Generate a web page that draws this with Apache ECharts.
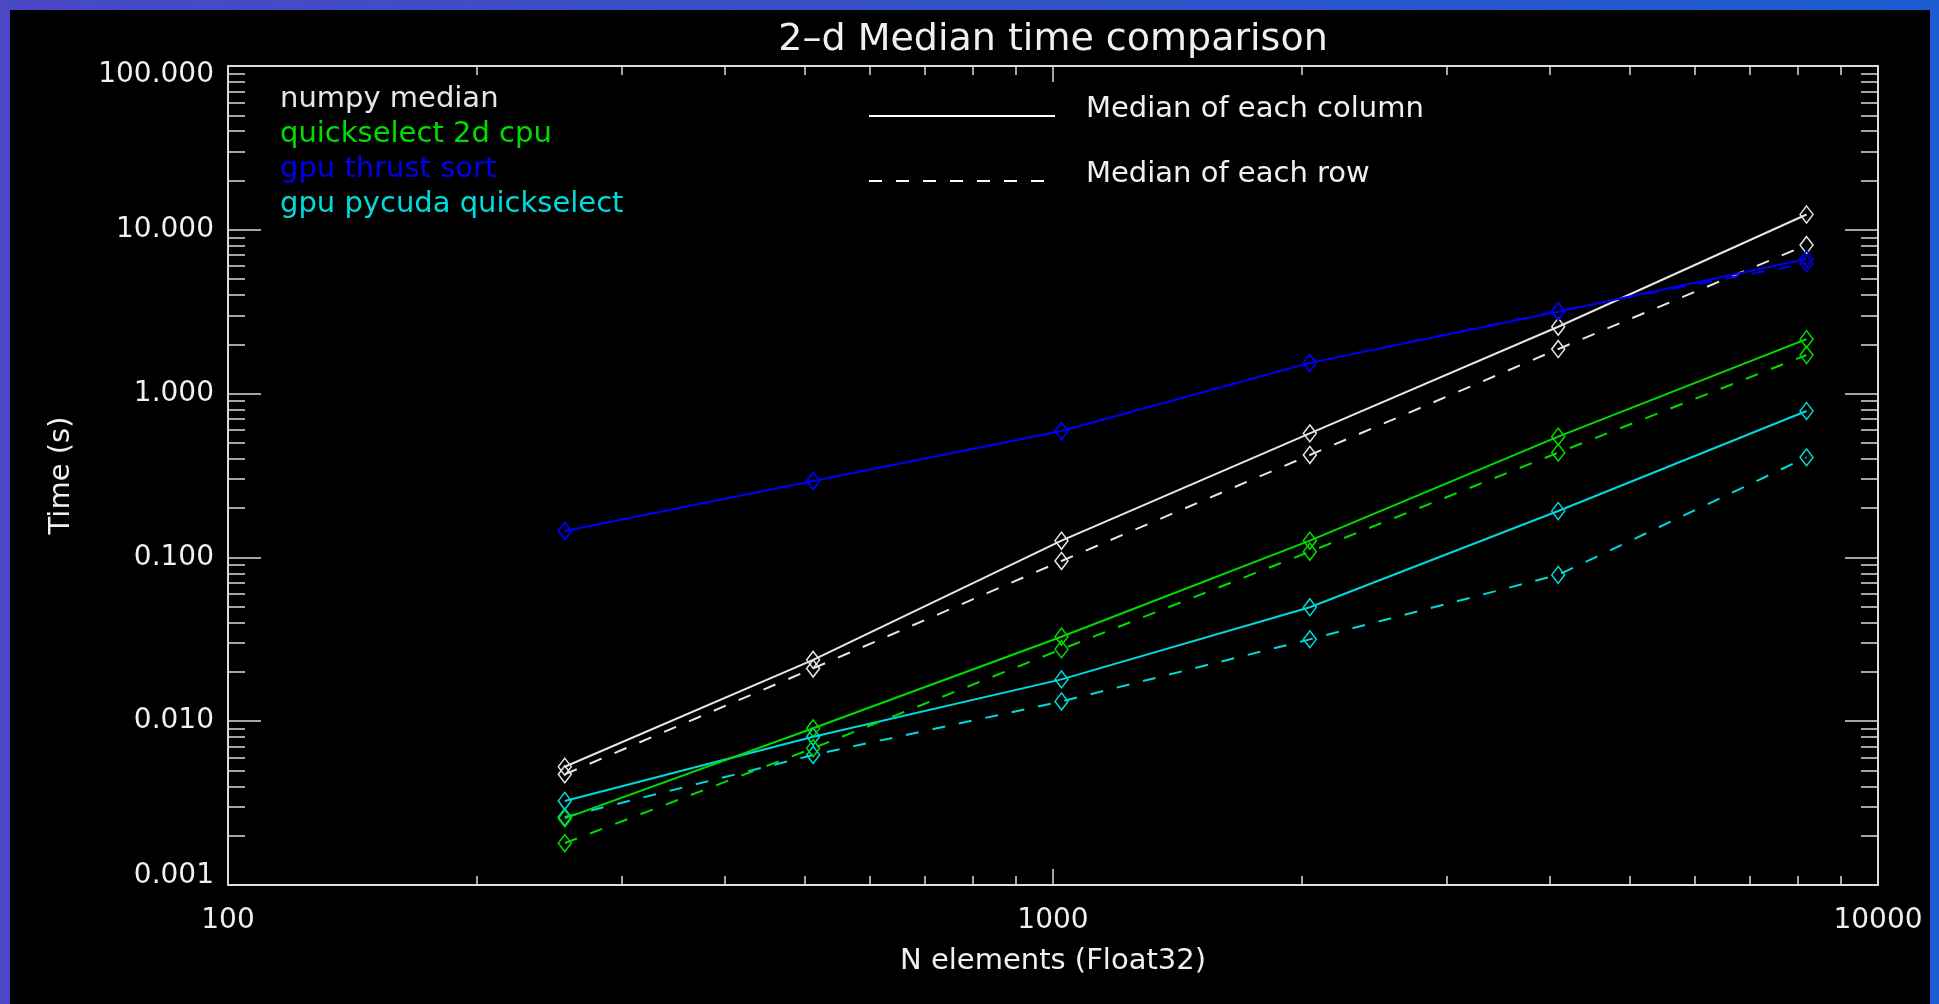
<!DOCTYPE html>
<html>
<head>
<meta charset="utf-8">
<script src="https://cdn.jsdelivr.net/npm/echarts@6/dist/echarts.min.js"></script>
<style>
html,body{margin:0;padding:0;background:#2f4cc0;overflow:hidden;}
#chart{width:1939px;height:1004px;}
</style>
</head>
<body>
<div id="chart"></div>
<script>
// ---- data ----
const sizes = [256, 512, 1024, 2048, 4096, 8192];
const numpyCol  = [0.00527, 0.0237, 0.1265, 0.572, 2.56, 12.4];
const numpyRow  = [0.00474, 0.0210, 0.0951, 0.422, 1.87, 8.07];
const qselCol   = [0.00255, 0.00905, 0.0328, 0.1265, 0.546, 2.15];
const qselRow   = [0.0018, 0.00684, 0.0275, 0.1084, 0.436, 1.72];
const thrustCol = [0.145, 0.293, 0.591, 1.54, 3.16, 6.64];
const thrustRow = [0.145, 0.293, 0.591, 1.54, 3.20, 6.25];
const pycudaCol = [0.00326, 0.00804, 0.0180, 0.0496, 0.192, 0.783];
const pycudaRow = [0.0026, 0.00622, 0.0132, 0.0316, 0.0782, 0.408];

const seriesNames = ['numpy median', 'quickselect 2d cpu', 'gpu thrust sort', 'gpu pycuda quickselect'];
const styleKeys = ['Median of each column', 'Median of each row'];

const xMajor = [100, 1000, 10000];
const xMajorLabels = ['100', '1000', '10000'];
const xMinor = [200, 300, 400, 500, 600, 700, 800, 900, 2000, 3000, 4000, 5000, 6000, 7000, 8000, 9000];
const yMajor = [0.001, 0.01, 0.1, 1, 10, 100];
const yMajorLabels = ['0.001', '0.010', '0.100', '1.000', '10.000', '100.000'];
const yMinor = [0.002, 0.003, 0.004, 0.005, 0.006, 0.007, 0.008, 0.009,
                0.02, 0.03, 0.04, 0.05, 0.06, 0.07, 0.08, 0.09,
                0.2, 0.3, 0.4, 0.5, 0.6, 0.7, 0.8, 0.9,
                2, 3, 4, 5, 6, 7, 8, 9,
                20, 30, 40, 50, 60, 70, 80, 90];

// ---- styling ----
const FONT = 'DejaVu Sans';
const AXC = '#dcdcdc';
const TXT = '#f0f0f0';
const colors = {
  'numpy median': '#e6e6e6',
  'quickselect 2d cpu': '#00dd00',
  'gpu thrust sort': '#0000ee',
  'gpu pycuda quickselect': '#00dada'
};

function pairs(vals) { return sizes.map((s, i) => [s, vals[i]]); }

function mkSeries(name, vals, dashed, z) {
  const c = colors[name];
  return {
    type: 'line', name: name, data: pairs(vals),
    xAxisIndex: 0, yAxisIndex: 0, z: z,
    symbol: 'diamond', symbolSize: [13, 17],
    showSymbol: true,
    itemStyle: { color: 'rgba(0,0,0,0)', borderColor: c, borderWidth: 1.5 },
    lineStyle: { color: c, width: 2, type: dashed ? [13, 14] : 'solid' },
    emphasis: { disabled: true },
    animation: false
  };
}

const xLog = { type: 'log', logBase: 10, min: 100, max: 10000, gridIndex: 0, splitLine: { show: false } };
const yLog = { type: 'log', logBase: 10, min: 0.001, max: 100, gridIndex: 0, splitLine: { show: false } };

function axis(base, extra) { return Object.assign({}, base, extra); }

const line = { show: true, onZero: false, lineStyle: { color: AXC, width: 2 } };
const noLine = { show: false, onZero: false };

const option = {
  backgroundColor: { type: 'linear', x: 0, y: 0, x2: 1, y2: 0,
    colorStops: [{ offset: 0, color: '#4a48c4' }, { offset: 0.5, color: '#3352c8' }, { offset: 1, color: '#1c5cd2' }] },
  animation: false,
  title: {
    text: '2\u2013d Median time comparison',
    left: 1048, top: 16, textAlign: 'center',
    textStyle: { color: TXT, fontFamily: FONT, fontSize: 38, fontWeight: 'normal' }
  },
  graphic: [
    { type: 'rect', z: -100, silent: true, shape: { x: 10, y: 10, width: 1920, height: 994 }, style: { fill: '#000' } },
    { type: 'line', silent: true, shape: { x1: 869, y1: 116, x2: 1055, y2: 116 }, style: { stroke: '#ffffff', lineWidth: 2 } },
    { type: 'line', silent: true, shape: { x1: 869, y1: 181, x2: 1055, y2: 181 }, style: { stroke: '#ffffff', lineWidth: 2, lineDash: [13, 14] } },
    { type: 'text', silent: true, style: { text: styleKeys[0], x: 1086, y: 109, fill: TXT, fontSize: 29, fontFamily: FONT, verticalAlign: 'middle' } },
    { type: 'text', silent: true, style: { text: styleKeys[1], x: 1086, y: 174, fill: TXT, fontSize: 29, fontFamily: FONT, verticalAlign: 'middle' } }
  ],
  legend: {
    orient: 'vertical', left: 275, top: 84, padding: 0,
    icon: 'none', itemWidth: 0, itemGap: 5,
    selectedMode: false,
    textStyle: { fontFamily: FONT, fontSize: 29, lineHeight: 30 },
    data: seriesNames.map(n => ({ name: n, textStyle: { color: colors[n] } }))
  },
  grid: { left: 228, right: 61, top: 66, bottom: 119 },
  xAxis: [
    axis(xLog, {
      position: 'bottom', axisLine: line,
      axisTick: { show: true, inside: true, length: 16, customValues: xMajor, lineStyle: { color: AXC, width: 1.5 } },
      axisLabel: { show: true, customValues: xMajor, margin: 22, color: TXT, fontFamily: FONT, fontSize: 28,
        showMinLabel: true, showMaxLabel: true,
        formatter: v => xMajorLabels[xMajor.findIndex(m => Math.abs(m - v) / m < 1e-6)] },
      name: 'N elements (Float32)', nameLocation: 'middle', nameGap: 62,
      nameTextStyle: { color: TXT, fontFamily: FONT, fontSize: 29 }
    }),
    axis(xLog, {
      position: 'bottom', axisLine: noLine,
      axisTick: { show: true, inside: true, length: 9, customValues: xMinor, lineStyle: { color: AXC, width: 1.5 } },
      axisLabel: { show: false }
    }),
    axis(xLog, {
      position: 'top', axisLine: line,
      axisTick: { show: true, inside: true, length: 16, customValues: xMajor, lineStyle: { color: AXC, width: 1.5 } },
      axisLabel: { show: false }
    }),
    axis(xLog, {
      position: 'top', axisLine: noLine,
      axisTick: { show: true, inside: true, length: 9, customValues: xMinor, lineStyle: { color: AXC, width: 1.5 } },
      axisLabel: { show: false }
    })
  ],
  yAxis: [
    axis(yLog, {
      position: 'left', axisLine: line,
      axisTick: { show: true, inside: true, length: 33, customValues: yMajor, lineStyle: { color: AXC, width: 1.5 } },
      axisLabel: { show: true, customValues: yMajor, margin: 14, color: TXT, fontFamily: FONT, fontSize: 28,
        lineHeight: 18,
        verticalAlignMinLabel: 'bottom', verticalAlignMaxLabel: 'top',
        showMinLabel: true, showMaxLabel: true,
        formatter: v => yMajorLabels[yMajor.findIndex(m => Math.abs(m - v) / m < 1e-6)] },
      name: 'Time (s)', nameLocation: 'middle', nameGap: 152,
      nameTextStyle: { color: TXT, fontFamily: FONT, fontSize: 29 }
    }),
    axis(yLog, {
      position: 'left', axisLine: noLine,
      axisTick: { show: true, inside: true, length: 17, customValues: yMinor, lineStyle: { color: AXC, width: 1.5 } },
      axisLabel: { show: false }
    }),
    axis(yLog, {
      position: 'right', axisLine: line,
      axisTick: { show: true, inside: true, length: 33, customValues: yMajor, lineStyle: { color: AXC, width: 1.5 } },
      axisLabel: { show: false }
    }),
    axis(yLog, {
      position: 'right', axisLine: noLine,
      axisTick: { show: true, inside: true, length: 17, customValues: yMinor, lineStyle: { color: AXC, width: 1.5 } },
      axisLabel: { show: false }
    })
  ],
  series: [
    mkSeries(seriesNames[0], numpyCol, false, 5),
    mkSeries(seriesNames[0], numpyRow, true, 5),
    mkSeries(seriesNames[1], qselCol, false, 4),
    mkSeries(seriesNames[1], qselRow, true, 4),
    mkSeries(seriesNames[2], thrustCol, false, 6),
    mkSeries(seriesNames[2], thrustRow, true, 6),
    mkSeries(seriesNames[3], pycudaCol, false, 3),
    mkSeries(seriesNames[3], pycudaRow, true, 3)
  ]
};

const chart = echarts.init(document.getElementById('chart'), null, { renderer: 'canvas' });
chart.setOption(option);
</script>
</body>
</html>
